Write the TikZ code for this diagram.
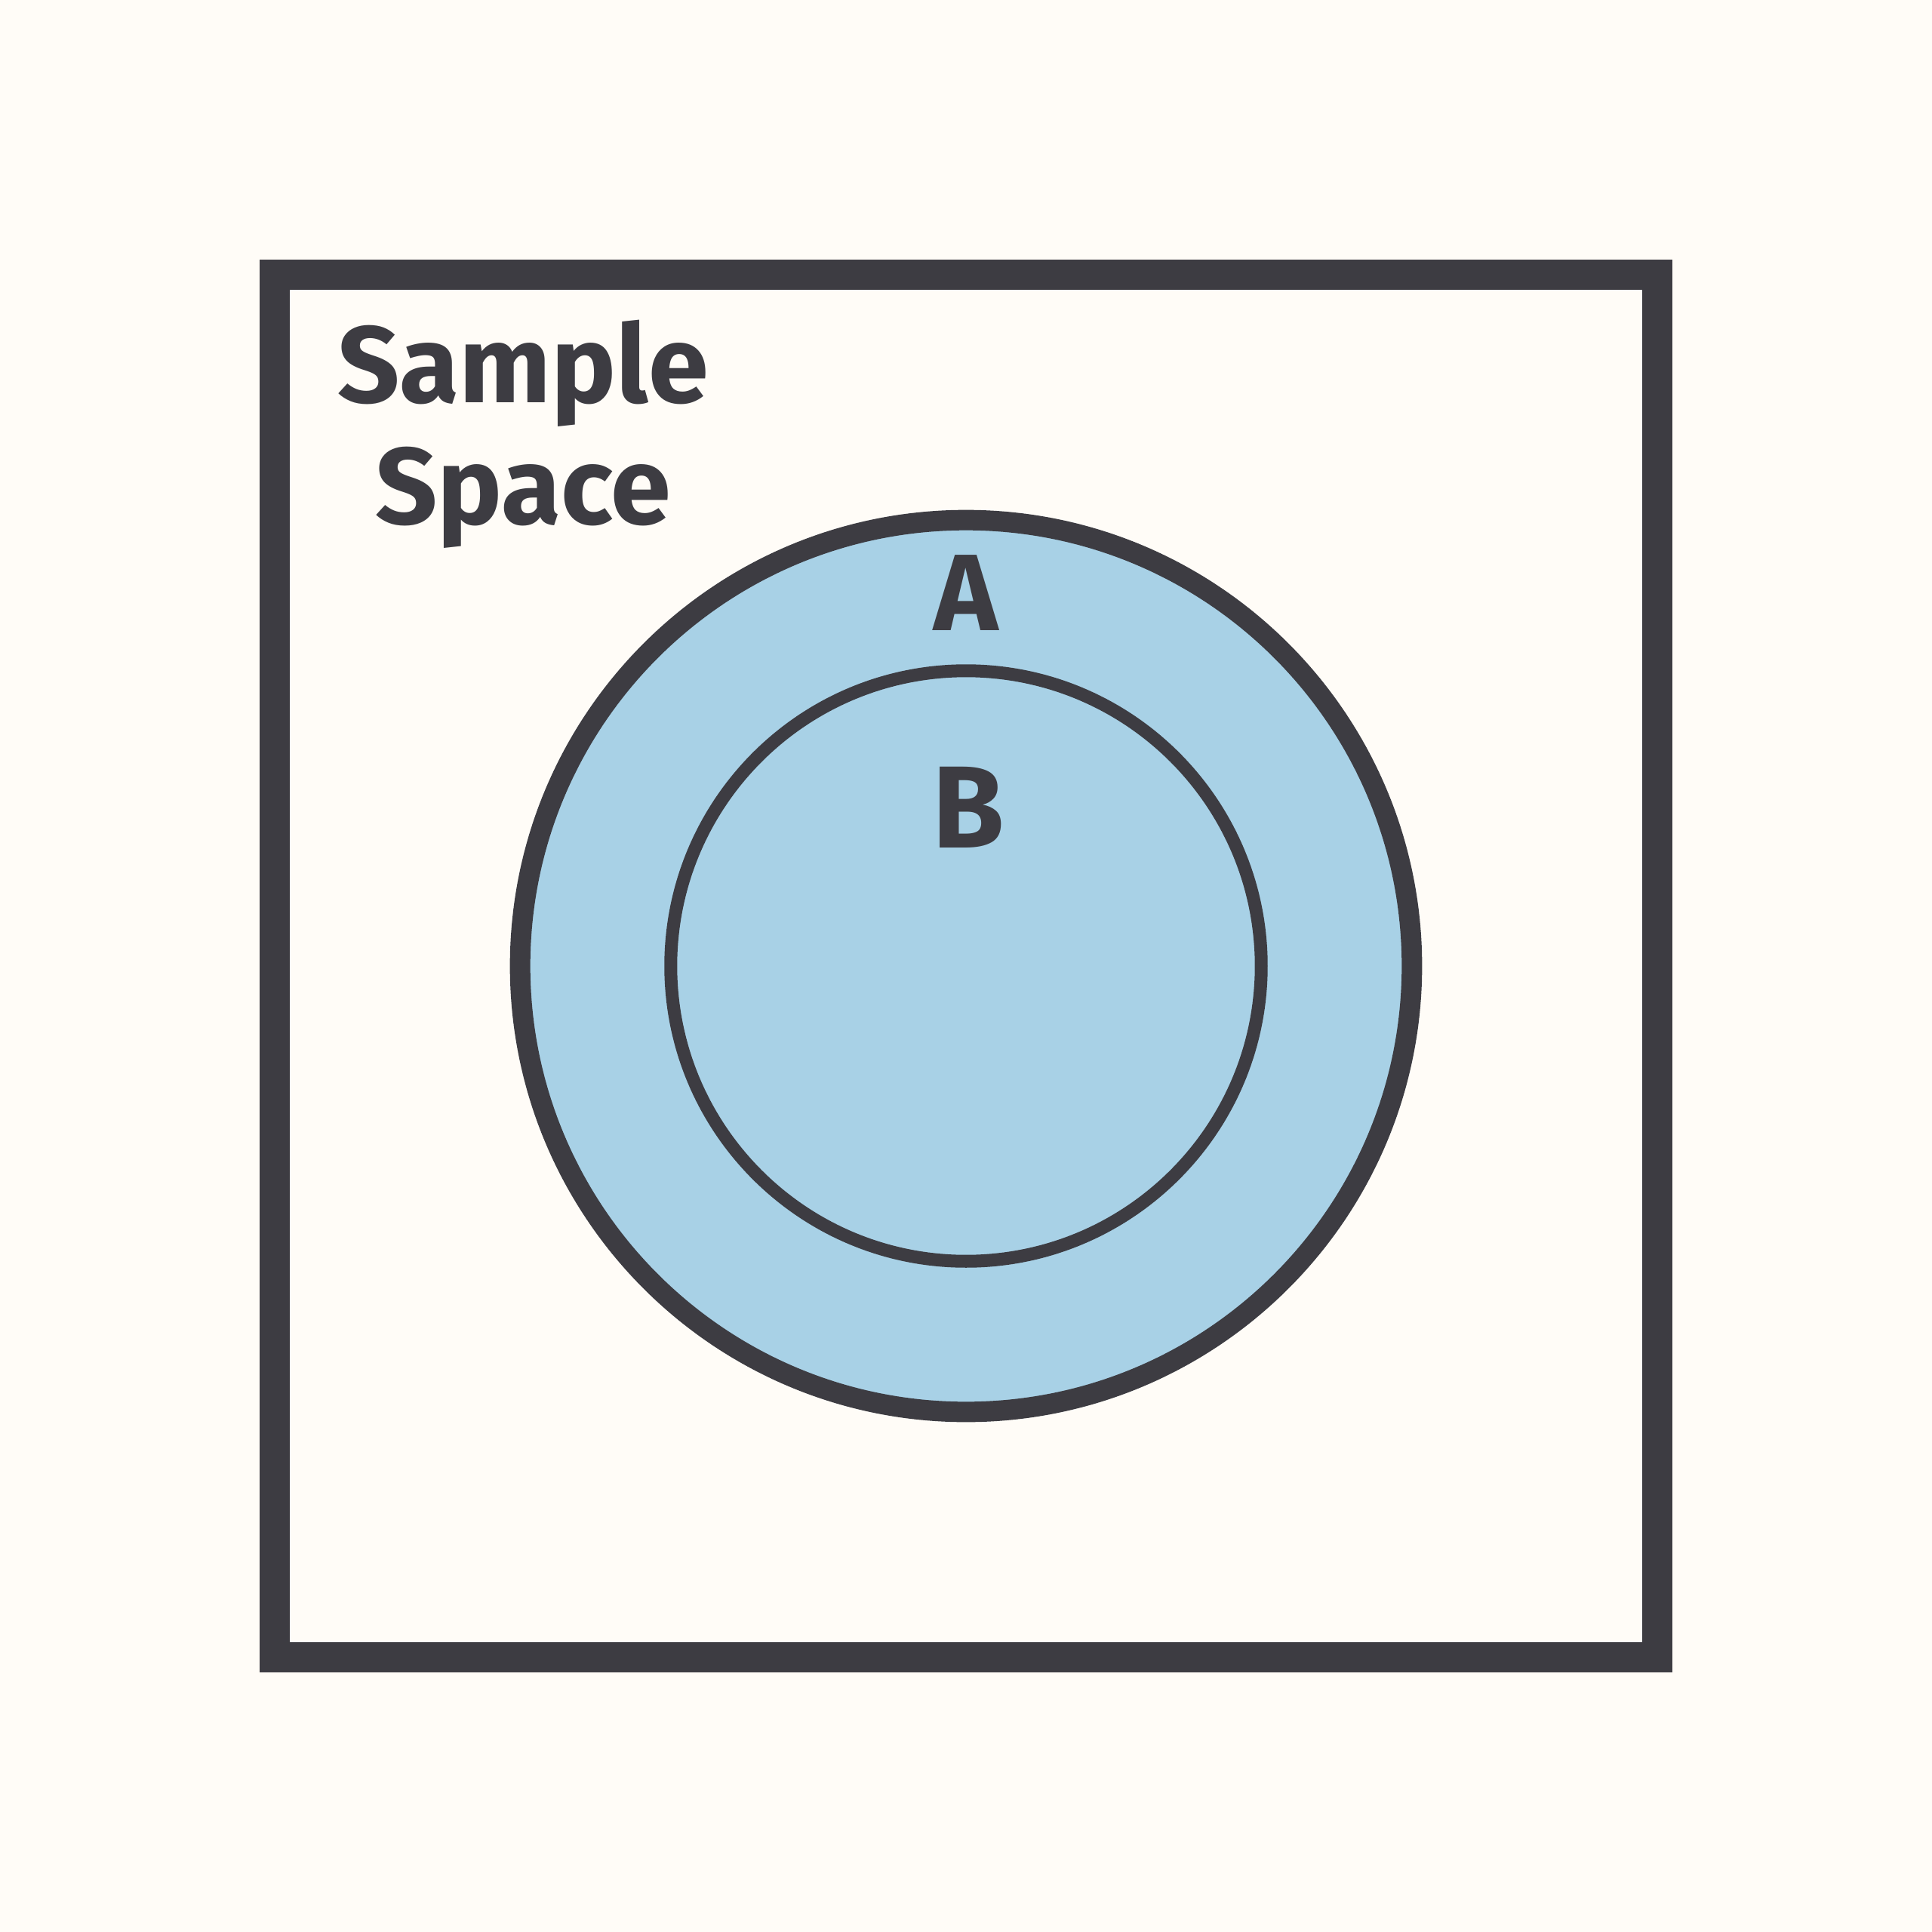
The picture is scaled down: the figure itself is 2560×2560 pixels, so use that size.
\documentclass[tikz,border=0pt]{standalone}
\usepackage{fontspec}
\setmainfont{Fira Sans}
\definecolor{paper}{HTML}{FFFCF7}
\definecolor{ink}{HTML}{3D3C42}
\definecolor{setblue}{HTML}{A8D1E6}
\begin{document}
\begin{tikzpicture}[x=0.01cm, y=-0.01cm, setcircle/.style={circle, draw=ink, inner sep=0pt}, setname/.style={text=ink, inner sep=0pt, anchor=base, font=\bfseries\fontsize{41}{46}\selectfont}]
  \fill[paper] (0,0) rectangle (2560,2560);
  \draw[ink, line width=4mm] (364,364) rectangle (2196,2196);
  \node[setcircle, fill=setblue, line width=2.7mm, minimum size=11.81cm] (setA) at (1280,1280) {};
  \node[setcircle, line width=1.7mm, minimum size=7.82cm] (setB) at (1280,1280) {};
  \node[setname] (sample) at (693,533) {Sample};
  \node[setname] (space) at (693,694) {Space};
  \node[setname] (labelA) at (1280,835) {A};
  \node[setname, font=\bfseries\fontsize{44}{50}\selectfont] (labelB) at (1283,1123) {B};
\end{tikzpicture}
\end{document}
